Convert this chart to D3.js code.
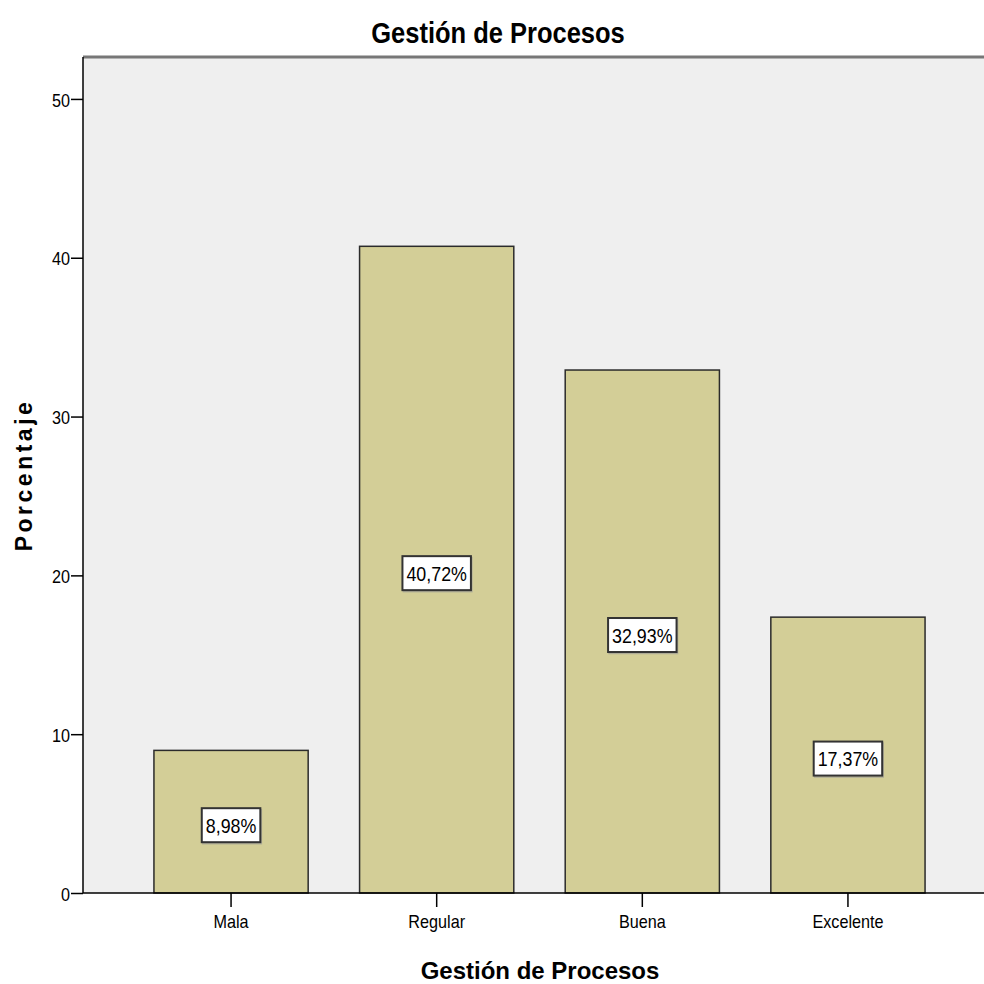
<!DOCTYPE html>
<html>
<head>
<meta charset="utf-8">
<script src="https://cdn.jsdelivr.net/npm/d3@7"></script>
<style>
  html, body { margin: 0; padding: 0; background: #fff; }
  svg { display: block; }
  text { font-family: "Liberation Sans", Arial, sans-serif; fill: #000; }
</style>
</head>
<body>
<svg id="chart" width="984" height="984"></svg>
<script>
// Frequency distribution (percent) for the "Gestión de Procesos" variable
const categories = ["Mala", "Regular", "Buena", "Excelente"];
const percentages = [8.98, 40.72, 32.93, 17.37];
const yTicks = [0, 10, 20, 30, 40, 50];
const chartTitle = "Gestión de Procesos";
const xTitle = "Gestión de Procesos";
const yTitle = "Porcentaje";

const svg = d3.select("#chart");
const plot = { left: 83, right: 996, top: 57, bottom: 893 };

// Squeeze text horizontally to get a narrow face from the installed sans
function condense(sel, sx) {
  sel.each(function () {
    const t = d3.select(this);
    const tx = +(t.attr("x") || 0), ty = +(t.attr("y") || 0);
    t.attr("x", 0).attr("y", 0)
      .attr("transform", `translate(${tx},${ty}) scale(${sx},1)`);
  });
}

const x = d3.scaleBand()
  .domain(categories)
  .range([plot.left, plot.right])
  .paddingInner(0.25)
  .paddingOuter(0.345);

const y = d3.scaleLinear()
  .domain([0, 52.64])
  .range([plot.bottom, plot.top]);

// Plot background
svg.append("rect")
  .attr("x", plot.left).attr("y", plot.top)
  .attr("width", plot.right - plot.left).attr("height", plot.bottom - plot.top)
  .attr("fill", "#efefef");

// Top frame line
svg.append("line")
  .attr("x1", plot.left).attr("x2", plot.right)
  .attr("y1", plot.top).attr("y2", plot.top)
  .attr("stroke", "#777").attr("stroke-width", 3);

// Bars
svg.append("g").selectAll("rect")
  .data(categories)
  .join("rect")
  .attr("x", d => x(d))
  .attr("y", (d, i) => y(percentages[i]))
  .attr("width", x.bandwidth())
  .attr("height", (d, i) => y(0) - y(percentages[i]))
  .attr("fill", "#d3ce97")
  .attr("stroke", "#2b2b2b")
  .attr("stroke-width", 1.5);

// Y axis
const yAxis = svg.append("g")
  .attr("transform", `translate(${plot.left},0)`)
  .call(d3.axisLeft(y).tickValues(yTicks).tickSize(12).tickPadding(1).tickFormat(d3.format("d")));
yAxis.select(".domain").attr("stroke", "#000").attr("stroke-width", 1.5)
  .attr("d", `M0,${plot.top}V${plot.bottom}`);
yAxis.selectAll(".tick line").attr("stroke", "#000").attr("stroke-width", 1.5);
yAxis.selectAll(".tick text")
  .attr("font-size", 18).attr("dy", "0.4em")
  .attr("font-family", "'Liberation Sans', Arial, sans-serif")
  .call(condense, 0.9);

// X axis
const xAxis = svg.append("g")
  .attr("transform", `translate(0,${plot.bottom})`)
  .call(d3.axisBottom(x).tickSize(14).tickPadding(8));
xAxis.select(".domain").attr("stroke", "#000").attr("stroke-width", 1.5)
  .attr("d", `M${plot.left},0H${plot.right}`);
xAxis.selectAll(".tick line").attr("stroke", "#000").attr("stroke-width", 1.5);
xAxis.selectAll(".tick text")
  .attr("font-size", 18)
  .attr("font-family", "'Liberation Sans', Arial, sans-serif")
  .call(condense, 0.9);

// Value labels in boxes at bar mid-height
const fmt = v => d3.format(".2f")(v).replace(".", ",") + "%";
const labelScale = 0.85;
const labels = svg.append("g").selectAll("g")
  .data(categories)
  .join("g")
  .attr("transform", (d, i) => `translate(${x(d) + x.bandwidth() / 2},${y(percentages[i] / 2) + 3.5})`);

labels.append("text")
  .attr("text-anchor", "middle")
  .attr("dominant-baseline", "central")
  .attr("font-size", 21)
  .attr("transform", `scale(${labelScale},1)`)
  .text((d, i) => fmt(percentages[i]))
  .each(function () {
    const w = this.getBBox().width * labelScale;
    const g = d3.select(this.parentNode);
    // soft shadow under the box
    g.insert("rect", "text")
      .attr("x", -w / 2 - 3).attr("y", -15.5)
      .attr("width", w + 8).attr("height", 34)
      .attr("fill", "none")
      .attr("stroke", "#999")
      .attr("stroke-width", 1.5)
      .attr("opacity", 0.6);
    g.insert("rect", "text")
      .attr("x", -w / 2 - 4).attr("y", -17)
      .attr("width", w + 8).attr("height", 34)
      .attr("fill", "#fff")
      .attr("stroke", "#333")
      .attr("stroke-width", 2);
  });

// Titles
svg.append("text")
  .attr("text-anchor", "middle")
  .attr("font-weight", "bold")
  .attr("font-size", 30)
  .attr("x", 498).attr("y", 43)
  .text(chartTitle)
  .call(condense, 0.85);

svg.append("text")
  .attr("x", 540).attr("y", 979)
  .attr("text-anchor", "middle")
  .attr("font-weight", "bold")
  .attr("font-size", 24)
  .text(xTitle);

svg.append("text")
  .attr("transform", "translate(32,475) rotate(-90)")
  .attr("text-anchor", "middle")
  .attr("font-weight", "bold")
  .attr("font-size", 23)
  .attr("letter-spacing", 3.5)
  .text(yTitle);
</script>
</body>
</html>
